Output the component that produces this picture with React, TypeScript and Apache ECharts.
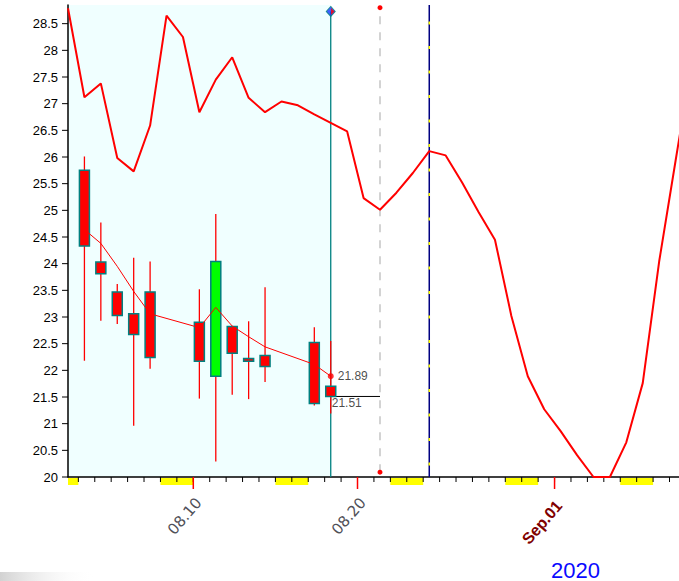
import React, { useEffect, useRef } from "react";
import * as echarts from "echarts";

// ---- axis setup (days of August 2020; Sep 1 = 32) ----
const X_MIN = 2.37;
const X_MAX = 40.37;
const Y_MIN = 20;
const Y_MAX = 28.85;
const SESSION = 0.37; // time-of-day offset of each session inside its day

// ---- candlesticks ----
const candleDays = [3, 4, 5, 6, 7, 10, 11, 12, 13, 14, 17, 18];
const candleOpen = [25.75, 24.03, 23.47, 23.06, 23.47, 22.9, 21.89, 22.82, 22.22, 22.28, 22.52, 21.7];
const candleClose = [24.33, 23.81, 23.03, 22.67, 22.24, 22.17, 24.04, 22.32, 22.17, 22.07, 21.38, 21.51];
const candleLow = [22.18, 22.93, 22.87, 20.96, 22.03, 21.47, 20.29, 21.54, 21.46, 21.78, 21.34, 21.19];
const candleHigh = [26.01, 24.77, 23.62, 24.11, 24.04, 23.52, 24.93, 22.82, 22.92, 23.56, 22.81, 22.55];

// ---- moving average through the candles ----
const maValues = [24.64, 24.38, 23.95, 23.48, 23.06, 22.8, 23.18, 22.83, 22.63, 22.44, 22.11, 21.89];

// ---- upper red curve (daily) ----
const curveDays = [
  2, 3, 4, 5, 6, 7, 8, 9, 10, 11, 12, 13, 14, 15, 16, 17, 18, 19, 20, 21,
  22, 23, 24, 25, 26, 27, 28, 29, 30, 31, 32, 33, 34, 35, 36, 37, 38, 39, 40,
];
const curveValues = [
  28.79, 27.12, 27.38, 25.98, 25.73, 26.59, 28.65, 28.25, 26.84, 27.45,
  27.87, 27.11, 26.84, 27.04, 26.97, 26.8, 26.64, 26.48, 25.23, 25.01,
  25.33, 25.7, 26.11, 26.03, 25.52, 24.97, 24.45, 23.02, 21.89, 21.27,
  20.86, 20.41, 20.0, 20.0, 20.65, 21.76, 24.04, 25.93, 27.8,
];

// ---- markers ----
const currentDay = 18; // last session (teal line)
const cursorDay = 21; // grey dashed line
const blueDay = 24; // blue line
const lastClose = 21.51;
const lastMA = 21.89;
const diamondValue = 28.73;
const cursorTop = 28.8;
const cursorBottom = 20.09;

// ---- x axis ticks & labels ----
const tickDays = [
  3, 4, 5, 6, 7, 8, 9, 10, 11, 12, 13, 14, 15, 16, 17, 18, 19, 20, 21, 22,
  23, 24, 25, 26, 27, 28, 29, 30, 31, 32, 33, 34, 35, 36, 37, 38, 39, 40,
];
const weekendStarts = [1, 8, 15, 22, 29, 36];
const labelDays = [10, 20, 32];
const labelTexts = ["08.10", "08.20", "Sep.01"];
const labelBold = [false, false, true];
const yTickValues = [20, 20.5, 21, 21.5, 22, 22.5, 23, 23.5, 24, 24.5, 25, 25.5, 26, 26.5, 27, 27.5, 28, 28.5];
const yearText = "2020";

const FONT = "'Liberation Sans', Arial, sans-serif";

export default function App() {
  const ref = useRef<HTMLDivElement>(null);

  useEffect(() => {
    if (!ref.current) return;
    const chart = echarts.init(ref.current, undefined, { renderer: "svg" });

    const candleData = candleDays.map((d, i) => [
      d + SESSION,
      candleOpen[i],
      candleClose[i],
      candleLow[i],
      candleHigh[i],
    ]);
    const maData = candleDays.map((d, i) => [d + SESSION, maValues[i]]);
    const curveData = curveDays.map((d, i) => [d + SESSION, curveValues[i]]);

    const option: any = {
      animation: false,
      grid: { left: 68, top: 5, width: 624, height: 472, containLabel: false },
      xAxis: {
        type: "value",
        min: X_MIN,
        max: X_MAX,
        axisLine: { show: true, onZero: false, lineStyle: { color: "#000", width: 1.5 } },
        axisTick: { show: false },
        axisLabel: { show: false },
        splitLine: { show: false },
      },
      yAxis: {
        type: "value",
        min: Y_MIN,
        max: Y_MAX,
        interval: 0.5,
        axisLine: { show: true, onZero: false, lineStyle: { color: "#000", width: 1.5 } },
        axisTick: { show: false },
        axisLabel: {
          color: "#000",
          fontSize: 13,
          fontFamily: FONT,
          margin: 10,
          formatter: (v: number) =>
            Math.abs(v * 2 - Math.round(v * 2)) < 1e-6 ? String(v) : "",
        },
        splitLine: { show: false },
      },
      graphic: [
        {
          type: "rect",
          left: 0,
          top: 572,
          shape: { width: 95, height: 9 },
          style: {
            fill: {
              type: "linear",
              x: 0,
              y: 0,
              x2: 1,
              y2: 0,
              colorStops: [
                { offset: 0, color: "rgba(205,205,205,0.9)" },
                { offset: 1, color: "rgba(255,255,255,0)" },
              ],
            },
          },
          silent: true,
        },
        {
          type: "text",
          left: 551,
          top: 559,
          style: { text: yearText, fill: "#0a0aff", fontSize: 22, fontFamily: FONT },
        },
      ],
      series: [
        // light cyan history region
        {
          type: "custom",
          z: 0,
          silent: true,
          data: [[X_MIN, currentDay + SESSION]],
          renderItem: (params: any, api: any) => {
            const p0 = api.coord([api.value(0), Y_MAX]);
            const p1 = api.coord([api.value(1), Y_MIN]);
            return {
              type: "rect",
              shape: { x: p0[0], y: p0[1], width: p1[0] - p0[0], height: p1[1] - p0[1] },
              style: { fill: "#F0FFFF" },
            };
          },
        },
        // weekend blocks under x axis
        {
          type: "custom",
          z: 1,
          silent: true,
          data: weekendStarts.map((d) => [d, Y_MIN]),
          renderItem: (params: any, api: any) => {
            const s = Math.max(api.value(0), X_MIN);
            const e = api.value(0) + 2;
            const p0 = api.coord([s, Y_MIN]);
            const p1 = api.coord([e, Y_MIN]);
            return {
              type: "rect",
              shape: { x: p0[0], y: p0[1] + 1, width: p1[0] - p0[0], height: 7 },
              style: { fill: "#FFFF00" },
            };
          },
        },
        // daily ticks
        {
          type: "custom",
          z: 2,
          silent: true,
          data: tickDays.map((d) => [d, Y_MIN]),
          renderItem: (params: any, api: any) => {
            const p = api.coord([api.value(0), Y_MIN]);
            return {
              type: "line",
              shape: { x1: p[0], y1: p[1], x2: p[0], y2: p[1] + 5 },
              style: { stroke: "#000", lineWidth: 1 },
            };
          },
        },
        // labelled ticks + rotated labels
        {
          type: "custom",
          z: 3,
          silent: true,
          data: labelDays.map((d) => [d, Y_MIN]),
          renderItem: (params: any, api: any) => {
            const i = params.dataIndex;
            const p = api.coord([api.value(0), Y_MIN]);
            const bold = labelBold[i];
            return {
              type: "group",
              children: [
                {
                  type: "line",
                  shape: { x1: p[0], y1: p[1], x2: p[0], y2: p[1] + 12 },
                  style: { stroke: "#ff0000", lineWidth: 1.5 },
                },
                {
                  type: "text",
                  x: p[0] + (bold ? 4.5 : 5.5),
                  y: p[1] + (bold ? 26 : 23),
                  rotation: (49 * Math.PI) / 180,
                  style: {
                    text: labelTexts[i],
                    fill: bold ? "#800000" : "#505058",
                    fontSize: bold ? 16 : 15,
                    fontWeight: bold ? "bold" : "normal",
                    fontFamily: bold ? FONT : "'DejaVu Sans', sans-serif",
                    align: "right",
                    verticalAlign: "middle",
                  },
                },
              ],
            };
          },
        },
        // y-axis ticks
        {
          type: "custom",
          z: 3,
          silent: true,
          data: yTickValues.map((v) => [X_MIN, v]),
          renderItem: (params: any, api: any) => {
            const p = api.coord([X_MIN, api.value(1)]);
            return {
              type: "line",
              shape: { x1: p[0] - 6, y1: p[1], x2: p[0], y2: p[1] },
              style: { stroke: "#000", lineWidth: 1 },
            };
          },
        },
        // teal current-session line
        {
          type: "line",
          z: 4,
          silent: true,
          symbol: "none",
          data: [
            [currentDay + SESSION, Y_MIN],
            [currentDay + SESSION, diamondValue],
          ],
          lineStyle: { color: "#008080", width: 1.3 },
        },
        // grey dashed cursor line with red end dots
        {
          type: "line",
          z: 4,
          silent: true,
          symbol: "circle",
          symbolSize: 5,
          showSymbol: true,
          itemStyle: { color: "#ff0000" },
          data: [
            [cursorDay + SESSION, cursorBottom],
            [cursorDay + SESSION, cursorTop],
          ],
          lineStyle: { color: "#c4c4c4", width: 1.5, type: [8, 8] },
        },
        // blue line
        {
          type: "line",
          z: 4,
          silent: true,
          symbol: "none",
          data: [
            [blueDay + SESSION, Y_MIN],
            [blueDay + SESSION, Y_MAX],
          ],
          lineStyle: { color: "#000080", width: 1.5 },
        },
        {
          type: "line",
          z: 4,
          silent: true,
          symbol: "none",
          data: [
            [blueDay + SESSION, Y_MIN],
            [blueDay + SESSION, Y_MAX],
          ],
          lineStyle: { color: "#FFFF00", width: 1.5, type: [3, 21.5], dashOffset: 12.5 },
        },
        // last close line
        {
          type: "line",
          z: 4,
          silent: true,
          symbol: "none",
          data: [
            [currentDay + SESSION, lastClose],
            [cursorDay + SESSION, lastClose],
          ],
          lineStyle: { color: "#000", width: 1 },
        },
        // upper red curve
        {
          type: "line",
          z: 5,
          silent: true,
          symbol: "none",
          data: curveData,
          lineStyle: { color: "#ff0000", width: 2 },
        },
        // candles
        {
          type: "custom",
          z: 6,
          silent: true,
          data: candleData,
          encode: { x: 0, y: [1, 2, 3, 4] },
          renderItem: (params: any, api: any) => {
            const x = api.value(0);
            const o = api.value(1);
            const c = api.value(2);
            const l = api.value(3);
            const h = api.value(4);
            const pH = api.coord([x, h]);
            const pL = api.coord([x, l]);
            const pO = api.coord([x, o]);
            const pC = api.coord([x, c]);
            const w = 10;
            const top = Math.min(pO[1], pC[1]);
            const bot = Math.max(pO[1], pC[1]);
            return {
              type: "group",
              children: [
                {
                  type: "line",
                  shape: { x1: pH[0], y1: pH[1], x2: pL[0], y2: pL[1] },
                  style: { stroke: "#ff0000", lineWidth: 1.3 },
                },
                {
                  type: "rect",
                  shape: { x: pO[0] - w / 2, y: top, width: w, height: Math.max(bot - top, 2) },
                  style: { fill: c >= o ? "#00ff00" : "#ff0000", stroke: "#008080", lineWidth: 1.5 },
                },
              ],
            };
          },
        },
        // moving average
        {
          type: "line",
          z: 7,
          silent: true,
          symbol: "none",
          data: maData,
          lineStyle: { color: "#ff0000", width: 1 },
        },
        // last MA dot + value
        {
          type: "scatter",
          z: 8,
          silent: true,
          symbol: "circle",
          symbolSize: 6,
          itemStyle: { color: "#ff0000" },
          data: [[currentDay + SESSION, lastMA]],
          label: {
            show: true,
            position: "right",
            distance: 4,
            color: "#1a1a1a",
            fontSize: 12,
            fontFamily: FONT,
            formatter: (p: any) => p.value[1].toFixed(2),
          },
        },
        // last close value label
        {
          type: "scatter",
          z: 8,
          silent: true,
          symbol: "circle",
          symbolSize: 1,
          itemStyle: { color: "rgba(0,0,0,0)" },
          data: [[currentDay + SESSION, lastClose]],
          label: {
            show: true,
            position: [1.5, 7],
            align: "left",
            verticalAlign: "middle",
            color: "#1a1a1a",
            fontSize: 12,
            fontFamily: FONT,
            formatter: (p: any) => p.value[1].toFixed(2),
          },
        },
        // diamond marker on teal line
        {
          type: "scatter",
          z: 8,
          silent: true,
          symbol: "diamond",
          symbolSize: [9, 10],
          itemStyle: { color: "#1438ff", borderColor: "#008080", borderWidth: 1 },
          data: [[currentDay + SESSION, diamondValue]],
        },
        {
          type: "scatter",
          z: 9,
          silent: true,
          symbol: "path://M0 0L1 1L0 2Z",
          symbolSize: [3.5, 7],
          symbolOffset: [2, 0],
          itemStyle: { color: "#ff0000" },
          data: [[currentDay + SESSION, diamondValue]],
        },
      ],
    };

    chart.setOption(option);
    return () => {
      chart.dispose();
    };
  }, []);

  return (
    <div
      style={{
        position: "absolute",
        left: 0,
        top: 0,
        width: 679,
        height: 581,
        overflow: "hidden",
        background: "#fff",
      }}
    >
      <div ref={ref} style={{ width: 700, height: 581 }} />
    </div>
  );
}
